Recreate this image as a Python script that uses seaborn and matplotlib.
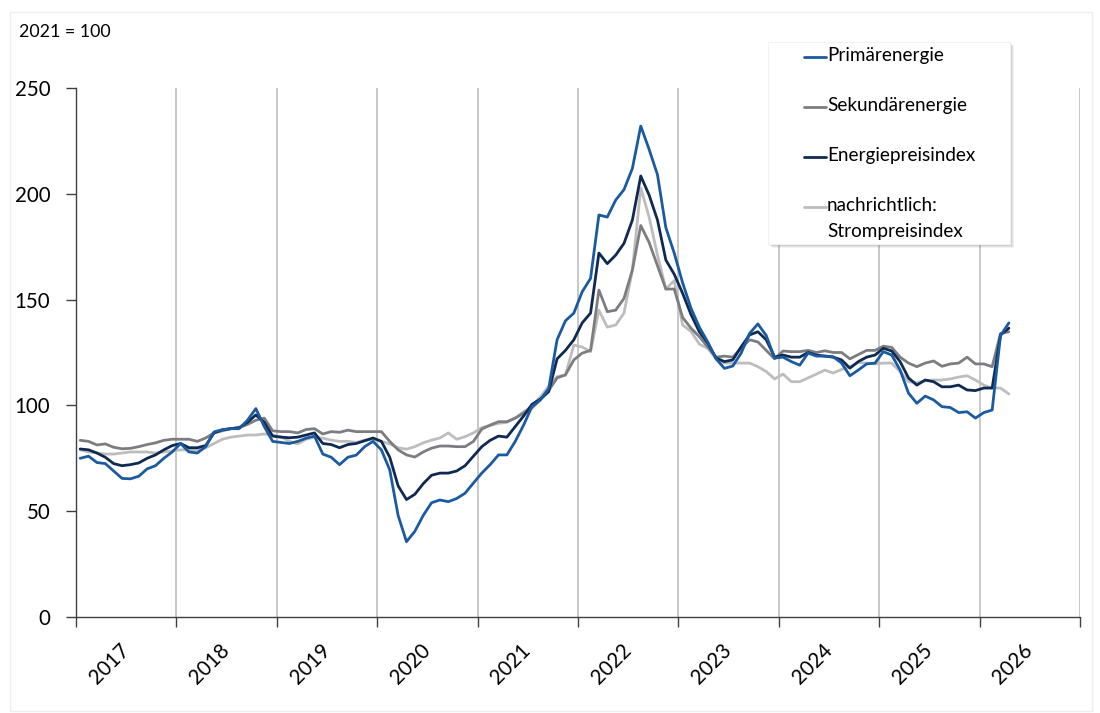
import numpy as np
import pandas as pd
import matplotlib
matplotlib.use("Agg")
import matplotlib.pyplot as plt
import seaborn as sns
from matplotlib.patches import Rectangle
from matplotlib.lines import Line2D

# ---------------- data (monthly, Jan 2017 - Apr 2026, 2021 = 100) ----------------
primaer = [
    75, 76, 73, 72.5, 69, 65.5, 65.3, 66.5, 70, 71.5, 75, 78,            # 2017
    82, 78, 77.5, 80.5, 87.5, 88.5, 89, 89, 93, 98.5, 90, 83,            # 2018
    82.5, 82, 83, 84.5, 85.5, 77, 75.5, 72, 75.5, 76.5, 80.5, 83,        # 2019
    79, 69.5, 48, 35.6, 40.5, 48, 54, 55.3, 54.5, 56, 58.5, 63.3,        # 2020
    68, 72, 76.6, 76.6, 83, 90.7, 99.5, 102.6, 108, 131, 140, 143.6,     # 2021
    153.7, 160, 190, 189, 197, 202, 212, 232, 221, 209, 184, 172,        # 2022
    158, 146, 137, 130, 122, 117.5, 118.6, 124.7, 134, 138.5, 133, 122.4,  # 2023
    122.8, 120.7, 119, 124.7, 123.3, 123.3, 123, 120, 114, 116.7, 119.6, 120,  # 2024
    125.4, 123.8, 116.7, 105.8, 101, 104.4, 102.6, 99.4, 99, 96.6, 97, 94,     # 2025
    96.6, 97.8, 133, 139,                                                # 2026
]
sekundaer = [
    83.5, 83, 81.3, 81.8, 80.2, 79.5, 79.7, 80.5, 81.5, 82.3, 83.5, 84,
    84, 84, 83, 84.6, 87, 88, 89, 89.5, 91, 93, 94, 88,
    87.6, 87.6, 87, 88.6, 89, 86.5, 87.6, 87.3, 88.3, 87.6, 87.6, 87.6,
    87.6, 83, 79, 76.6, 75.6, 78, 79.8, 80.8, 80.8, 80.5, 80.5, 83,
    88.8, 90.7, 92.3, 92.3, 94, 96.4, 98.8, 102.6, 107, 113, 114.4, 121.5,
    124.7, 126, 154.5, 144.3, 145, 150.6, 164, 185, 177, 166, 155, 155,
    141.6, 136.5, 132.5, 127.7, 122.8, 123.3, 122.8, 127, 131, 130, 126, 122,
    125.7, 125.4, 125.4, 126, 125, 125.8, 125, 125, 122, 124, 126, 126,
    128, 127.4, 122.8, 120, 118.3, 120, 121, 118.5, 119.6, 120, 122.8, 119.6,
    119.6, 118.3, 134, 134.8,
]
energie = [
    79.4, 79, 77.5, 75.5, 72.5, 71.5, 72, 72.8, 75, 76.6, 79, 81,
    82, 80, 80, 81, 87, 88.5, 89, 89.5, 92, 95.5, 92, 85.5,
    85, 84.7, 85, 86, 87, 82, 81.5, 80, 81.5, 82, 83.3, 84.6,
    83, 75.5, 62, 55.5, 58, 63, 67, 68, 68, 69, 71.5, 76,
    80.5, 83.5, 85.5, 85, 90, 95, 100.5, 103, 106.5, 122, 126, 131,
    139, 143.6, 172, 167, 171, 176.6, 187.6, 208.4, 199.4, 187.6, 168.7, 162,
    153, 143, 134.8, 129.5, 122.4, 120.7, 121.5, 127.7, 133.3, 134.8, 131, 122.8,
    123.8, 122.8, 122.8, 125, 123.8, 123.3, 122.8, 121.5, 117.6, 120.7, 122.8, 123.8,
    127, 125.7, 120.7, 113, 109.6, 112, 111.2, 108.8, 108.8, 109.6, 107.3, 107,
    108.2, 108.2, 133.3, 136.5,
]
strom = [
    79, 78, 77.5, 77, 77, 77.5, 78, 78, 78, 77.5, 78, 78.5,
    79, 79, 79, 80, 82, 84, 85, 85.5, 86, 86, 86.5, 86,
    85.2, 83, 81.8, 84, 85, 84.5, 83.6, 83, 83, 82.5, 83.6, 84,
    83, 81.8, 80, 79.3, 80.5, 82.3, 83.6, 84.6, 87, 84, 85.2, 87,
    89.5, 90.5, 91.5, 92, 94, 97, 99.5, 104, 109, 113.6, 114.4, 128.5,
    127.6, 125.4, 145, 137, 138, 143.6, 164, 202.8, 189, 171, 155, 159,
    138, 135, 129, 127, 122, 120, 120, 120, 120, 118.3, 116, 112.5,
    114.8, 111.2, 111.2, 113, 114.8, 116.7, 115.3, 117, 118.3, 120.2, 120, 119.6,
    120, 120, 116, 111.2, 110.7, 111.7, 112, 112, 112.5, 113.4, 114, 112,
    109.6, 108.2, 108.2, 105.4,
]

series_names = ["Primärenergie", "Sekundärenergie", "Energiepreisindex",
                "nachrichtlich:\nStrompreisindex"]
year_labels = [str(y) for y in range(2017, 2027)]
y_ticks = [0, 50, 100, 150, 200, 250]
base_note = "2021 = 100"

colors = {
    "Primärenergie": "#1a5aa0",
    "Sekundärenergie": "#7b7d80",
    "Energiepreisindex": "#0f2a52",
    "nachrichtlich:\nStrompreisindex": "#bdbdbd",
}

n = len(primaer)
t = 2017 + (np.arange(n) + 0.5) / 12.0
frames = []
for name, vals in zip(series_names, [primaer, sekundaer, energie, strom]):
    frames.append(pd.DataFrame({"t": t, "value": vals, "Reihe": name}))
df = pd.concat(frames, ignore_index=True)

# ---------------- figure ----------------
sns.set_theme(style="white")
plt.rcParams["font.family"] = ["Lato", "DejaVu Sans"]

W, H = 1100, 713
fig = plt.figure(figsize=(W / 100, H / 100), dpi=100)
ax = fig.add_axes([76 / W, 1 - 617 / H, (1080 - 76) / W, (617 - 88) / H])

draw_order = ["nachrichtlich:\nStrompreisindex", "Sekundärenergie",
              "Energiepreisindex", "Primärenergie"]
sns.lineplot(data=df, x="t", y="value", hue="Reihe", hue_order=draw_order,
             palette=colors, linewidth=2.0, legend=False, ax=ax,
             estimator=None, sort=False)

ax.set_xlim(2017, 2027)
ax.set_ylim(0, 250)
ax.set_xlabel("")
ax.set_ylabel("")

# x axis: year boundaries as major ticks (gridlines), labels at mid-year
ax.set_xticks(list(range(2017, 2028)))
ax.set_xticklabels([])
ax.set_xticks([int(y) + 0.57 for y in year_labels], minor=True)
ax.set_xticklabels(year_labels, minor=True, rotation=45, ha="right", va="top")
ax.tick_params(axis="x", which="major", bottom=True, length=7, width=1,
               color="#404040", direction="out")
ax.tick_params(axis="x", which="minor", bottom=True, length=0, pad=16.5,
               labelsize=14.8, labelcolor="black")

ax.set_yticks(y_ticks)
ax.set_yticklabels([str(v) for v in y_ticks])
ax.tick_params(axis="y", left=True, length=7, width=1, color="#404040",
               direction="out", pad=11.5, labelsize=14.8, labelcolor="black")

ax.grid(axis="x", which="major", color="#bfbfbf", linewidth=1.2)
ax.grid(axis="y", visible=False)
ax.set_axisbelow(True)
for s in ["top", "right"]:
    ax.spines[s].set_visible(False)
for s in ["left", "bottom"]:
    ax.spines[s].set_color("#404040")
    ax.spines[s].set_linewidth(1.0)


def fx(px):
    return px / W


def fy(py):
    return 1 - py / H


# faint outer frame
fig.patches.append(Rectangle((fx(10), fy(711)), fx(1092) - fx(10), fy(12) - fy(711),
                             transform=fig.transFigure, fill=False,
                             edgecolor="#eeeeee", linewidth=1.0, zorder=0))

fig.text(fx(19), fy(37), base_note, fontsize=12.8, color="black",
         ha="left", va="baseline")

# ---------------- legend box (manual, to keep handle at first label line) ----------------
bx0, by0, bx1, by1 = 768, 42, 1010, 244
for off, a in [(4, 0.10), (3, 0.14), (2, 0.18), (1, 0.22)]:
    fig.patches.append(Rectangle((fx(bx0 + off), fy(by1 + off)),
                                 fx(bx1) - fx(bx0), fy(by0) - fy(by1),
                                 transform=fig.transFigure, facecolor="#808080",
                                 edgecolor="none", alpha=a, zorder=5))
fig.patches.append(Rectangle((fx(bx0), fy(by1)), fx(bx1) - fx(bx0), fy(by0) - fy(by1),
                             transform=fig.transFigure, facecolor="white",
                             edgecolor="#f2f2f2", linewidth=0.8, zorder=6))

baselines = [61.5, 111, 161, 211]
for name, base in zip(series_names, baselines):
    fig.add_artist(Line2D([fx(804), fx(826)], [fy(base - 4.5), fy(base - 4.5)],
                          transform=fig.transFigure, color=colors[name],
                          linewidth=2.0, zorder=7))
    lines = name.split("\n")
    for k, ln in enumerate(lines):
        fig.text(fx(827), fy(base + 25.7 * k), ln, fontsize=13.6, color="black",
                 ha="left", va="baseline", zorder=7)

fig.savefig("out.png", dpi=100)
